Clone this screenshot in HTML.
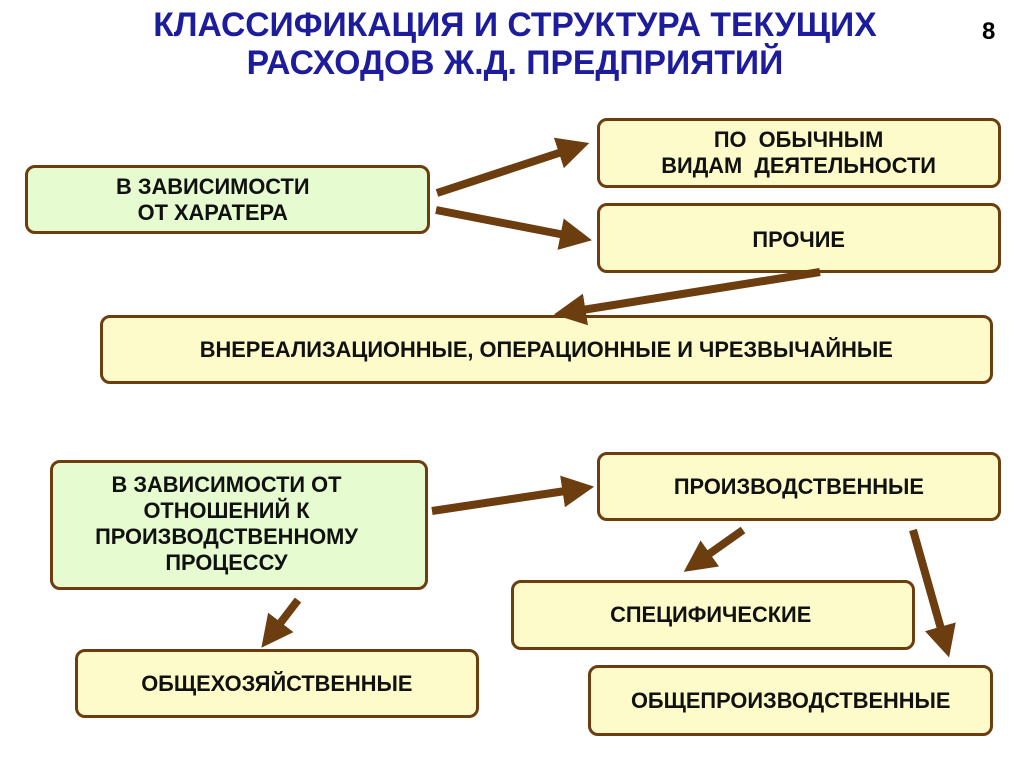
<!DOCTYPE html>
<html><head><meta charset="utf-8"><style>
body{margin:0;width:1024px;height:767px;background:#fff;position:relative;overflow:hidden;font-family:"Liberation Sans",sans-serif}
.t{position:absolute;left:0;width:1030px;text-align:center;color:#1c1c9c;font-weight:bold;font-size:34px;line-height:38px;top:6px;transform:scaleX(0.99)}
.n{position:absolute;left:982px;top:18px;font-weight:bold;font-size:24px}
.b{position:absolute;box-sizing:border-box;border:3px solid #6b3d0f;border-radius:10px;background:#fdfbc9;display:flex;align-items:center;justify-content:center;text-align:center;font-weight:bold;font-size:22.5px;line-height:26px;color:#111}
.b span{display:inline-block;transform:scaleX(0.97)}
.g{background:#e6fbcf}
svg{position:absolute;left:0;top:0}
</style></head><body>
<div class="t">КЛАССИФИКАЦИЯ И СТРУКТУРА ТЕКУЩИХ<br>РАСХОДОВ Ж.Д. ПРЕДПРИЯТИЙ</div>
<div class="n">8</div>
<div class="b g" style="left:25px;top:165px;width:405px;height:69px;padding-right:30px"><span>В ЗАВИСИМОСТИ<br>ОТ ХАРАТЕРА</span></div>
<div class="b" style="left:597px;top:118px;width:404px;height:70px;align-items:flex-start;padding-top:6px"><span>ПО &nbsp;ОБЫЧНЫМ<br>ВИДАМ &nbsp;ДЕЯТЕЛЬНОСТИ</span></div>
<div class="b" style="left:597px;top:203px;width:404px;height:70px;align-items:flex-start;padding-top:21px"><span>ПРОЧИЕ</span></div>
<div class="b" style="left:100px;top:315px;width:893px;height:69px"><span>ВНЕРЕАЛИЗАЦИОННЫЕ, ОПЕРАЦИОННЫЕ И ЧРЕЗВЫЧАЙНЫЕ</span></div>
<div class="b g" style="left:50px;top:460px;width:378px;height:130px;align-items:flex-start;padding-top:9px;padding-right:25px"><span>В ЗАВИСИМОСТИ ОТ<br>ОТНОШЕНИЙ К<br>ПРОИЗВОДСТВЕННОМУ<br>ПРОЦЕССУ</span></div>
<div class="b" style="left:597px;top:452px;width:404px;height:69px;align-items:flex-start;padding-top:19px"><span>ПРОИЗВОДСТВЕННЫЕ</span></div>
<div class="b" style="left:511px;top:580px;width:404px;height:70px;padding-right:5px"><span>СПЕЦИФИЧЕСКИЕ</span></div>
<div class="b" style="left:588px;top:665px;width:405px;height:71px"><span>ОБЩЕПРОИЗВОДСТВЕННЫЕ</span></div>
<div class="b" style="left:75px;top:649px;width:404px;height:69px"><span>ОБЩЕХОЗЯЙСТВЕННЫЕ</span></div>
<svg width="1024" height="767">
<defs><marker id="a" markerWidth="4" markerHeight="4" refX="1.2" refY="2" orient="auto" markerUnits="strokeWidth"><path d="M0,0L4,2L0,4z" fill="#6b3d0f"/></marker></defs>
<g stroke="#6b3d0f" stroke-width="8" marker-end="url(#a)">
<line x1="437" y1="193" x2="568" y2="150"/>
<line x1="436" y1="210" x2="570" y2="236"/>
<line x1="820" y1="272" x2="576" y2="311"/>
<line x1="432" y1="511" x2="572" y2="490"/>
<line x1="298" y1="600" x2="275" y2="630"/>
<line x1="743" y1="530" x2="702" y2="559"/>
<line x1="913" y1="530" x2="943" y2="636"/>
</g></svg>
</body></html>
